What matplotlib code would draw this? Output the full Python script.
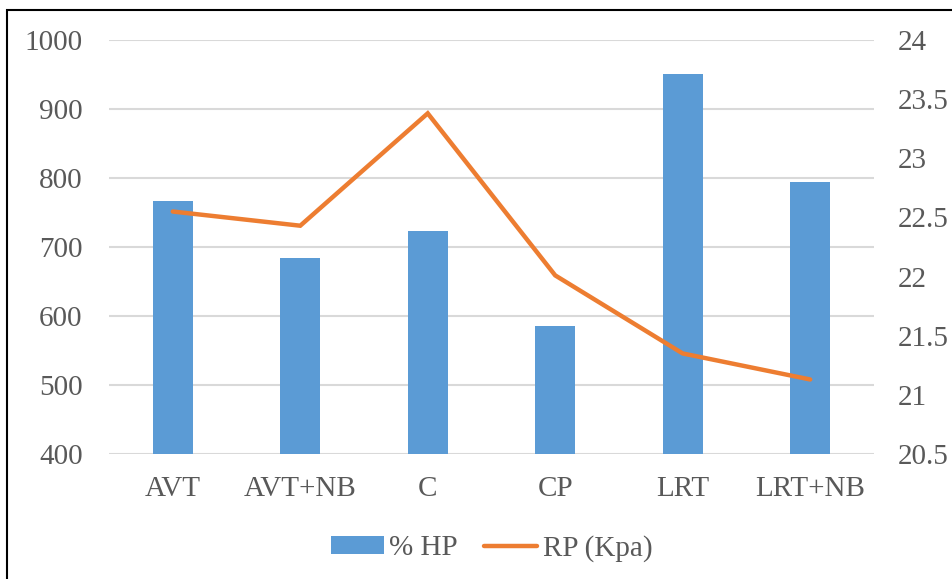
import matplotlib
matplotlib.use("Agg")
import matplotlib.pyplot as plt
from matplotlib.patches import Rectangle, Patch
from matplotlib.lines import Line2D

categories = ["AVT", "AVT+NB", "C", "CP", "LRT", "LRT+NB"]
hp_values = [767, 684, 723, 585, 951, 794]
rp_values = [22.55, 22.43, 23.38, 22.01, 21.35, 21.13]
left_ticks = [400, 500, 600, 700, 800, 900, 1000]
right_ticks = [20.5, 21, 21.5, 22, 22.5, 23, 23.5, 24]

BLUE = "#5B9BD5"
ORANGE = "#ED7D31"
GRID = "#D9D9D9"
TEXT = "#595959"
FS = 21

plt.rcParams["font.family"] = ["Liberation Serif", "DejaVu Serif"]

fig = plt.figure(figsize=(9.53, 5.79), dpi=100)
ax = fig.add_axes([0.1144, 0.2159, 0.917 - 0.1144, 0.9309 - 0.2159])
ax2 = ax.twinx()

x = list(range(len(categories)))
ax.bar(x, hp_values, width=0.314, color=BLUE, zorder=2)
ax.set_ylim(400, 1000)
ax.set_yticks(left_ticks)
ax.set_xlim(-0.5, len(categories) - 0.5)
ax.set_xticks(x)
ax.set_xticklabels(categories)
ax.grid(axis="y", color=GRID, linewidth=1.5, zorder=0)
ax.set_axisbelow(True)

ax2.plot(x, rp_values, color=ORANGE, linewidth=3.2, solid_capstyle="round",
         solid_joinstyle="miter", zorder=3)
ax2.set_ylim(20.5, 24)
ax2.set_yticks(right_ticks)
ax2.set_yticklabels([f"{t:g}" for t in right_ticks])

for a in (ax, ax2):
    for s in a.spines.values():
        s.set_visible(False)
    a.tick_params(length=0, labelsize=FS, labelcolor=TEXT)
ax.tick_params(axis="y", pad=19)
ax.tick_params(axis="x", pad=16)
ax2.tick_params(axis="y", pad=17)

handles = [Patch(facecolor=BLUE, edgecolor="none"),
           Line2D([0], [0], color=ORANGE, linewidth=3.2, solid_capstyle="round")]
fig.legend(handles, ["% HP", "RP (Kpa)"], loc="center", bbox_to_anchor=(0.516, 0.053),
           ncol=2, frameon=False, fontsize=FS, labelcolor=TEXT,
           handlelength=1.8, handleheight=0.55, handletextpad=0.2, columnspacing=0.9)

# chart frame
fig.patches.append(Rectangle((7 / 953, -0.05), 1.2, 1 - 10 / 579 + 0.05,
                             transform=fig.transFigure, fill=False,
                             edgecolor="black", linewidth=1.5))

fig.savefig("out.png", dpi=100)
